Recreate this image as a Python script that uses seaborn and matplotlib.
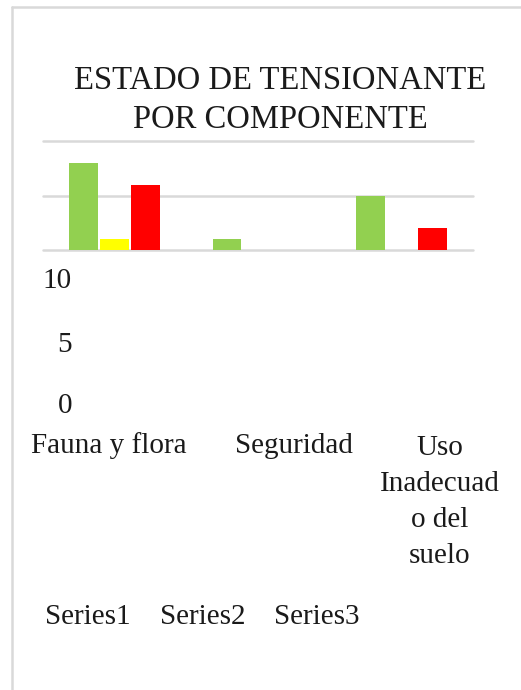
import matplotlib
matplotlib.use("Agg")
import matplotlib.pyplot as plt
from matplotlib.lines import Line2D
from matplotlib.patches import Patch
import numpy as np
import pandas as pd
import seaborn as sns

# --- data ---------------------------------------------------------------
componentes = ["Fauna y flora", "Seguridad", "Uso Inadecuado del suelo"]
etiquetas_componentes = ["Fauna y flora", "Seguridad", "Uso\nInadecuad\no del\nsuelo"]
series = ["Series1", "Series2", "Series3"]
series1 = [8, 1, 5]
series2 = [1, 0, 0]
series3 = [6, 0, 2]
ticks_y = [0, 5, 10]
colores = ["#92D050", "#FFFF00", "#FF0000"]
titulo = "ESTADO DE TENSIONANTE\nPOR COMPONENTE"

df = pd.DataFrame({
    "Componente": componentes * 3,
    "Serie": np.repeat(series, len(componentes)),
    "Valor": series1 + series2 + series3,
})

# --- figure -------------------------------------------------------------
sns.set_style("white")
plt.rcParams["font.family"] = ["Liberation Serif", "DejaVu Serif"]

W, H = 521, 690
fig = plt.figure(figsize=(W / 100, H / 100), dpi=100)
fig.patch.set_facecolor("white")

def fx(px):
    return px / W

def fy(py):
    return 1 - py / H

# light chart frame (left and top edges)
frame_col = "#D9D9D9"
fig.add_artist(Line2D([fx(12), fx(12)], [fy(7), 0], transform=fig.transFigure,
                      color=frame_col, lw=1.8))
fig.add_artist(Line2D([fx(12), 1], [fy(7), fy(7)], transform=fig.transFigure,
                      color=frame_col, lw=1.8))

ax = fig.add_axes([fx(43), fy(250), fx(473) - fx(43), (250 - 141) / H])
sns.barplot(data=df, x="Componente", y="Valor", hue="Serie", order=componentes,
            hue_order=series, palette=colores, width=0.65, gap=0.07,
            linewidth=0, saturation=1, legend=False, ax=ax)

ax.set_ylim(0, 10)
ax.set_xlim(-0.5, len(componentes) - 0.5)
ax.set_yticks(ticks_y)
ax.yaxis.grid(True, color=frame_col, lw=1.8)
for gl in ax.get_ygridlines():
    gl.set_clip_on(False)
ax.set_axisbelow(True)
ax.tick_params(left=False, bottom=False, labelleft=False, labelbottom=False)
ax.set_xlabel("")
ax.set_ylabel("")
for s in ax.spines.values():
    s.set_visible(False)

fs = 21
# value axis labels, stacked under the plot area
for val, base in zip(ticks_y[::-1], [288, 352, 413]):
    fig.text(fx(72), fy(base), str(val), ha="right", va="baseline", fontsize=fs,
             color="#1a1a1a")

# category labels (anchored on the baseline of their last line)
for lab, cx in zip(etiquetas_componentes, [109, 294, 440]):
    n_lines = lab.count("\n")
    fig.text(fx(cx), fy(453 + 36.7 * n_lines), lab, ha="center", va="baseline",
             fontsize=fs, multialignment="center", linespacing=1.5,
             color="#1a1a1a")

# title
fig.text(fx(280), fy(128), titulo, ha="center", va="baseline", fontsize=23.5,
         multialignment="center", linespacing=1.38, color="#1a1a1a")

# legend (text only)
handles = [Patch(facecolor=c, visible=False) for c in colores]
leg = fig.legend(handles=handles, labels=series, ncol=3, frameon=False,
                 loc="center left", bbox_to_anchor=(fx(45), fy(617)),
                 handlelength=0, handletextpad=0, columnspacing=1.0,
                 borderpad=0, borderaxespad=0, fontsize=fs)
for t in leg.get_texts():
    t.set_color("#1a1a1a")

fig.savefig("out.png", dpi=100, facecolor="white")
